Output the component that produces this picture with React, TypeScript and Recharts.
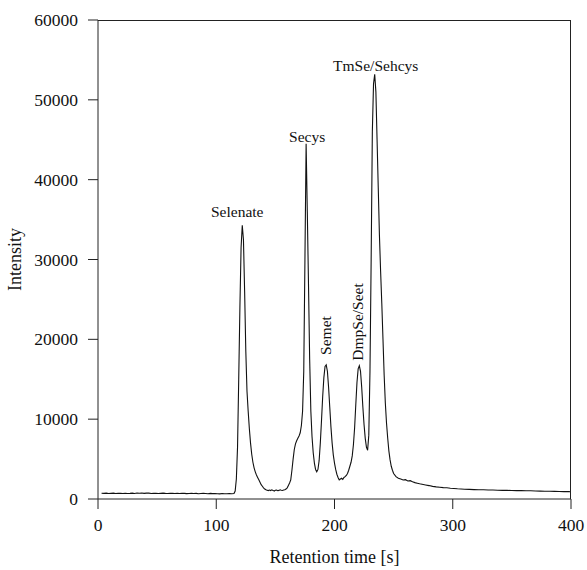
// Se species chromatogram (HPLC-ICP-MS) with a closed frame around the plot
import React from 'react';
import { LineChart, Line, XAxis, YAxis, ReferenceDot } from 'recharts';

const FONT = '"Liberation Serif", "Times New Roman", serif';
const AXIS = '#222';
const W = 587;
const H = 570;
const MARGIN = { top: 20, right: 16, left: 0, bottom: 0 };
const X_AXIS_H = 71;
const Y_AXIS_W = 98;
const TICK = 10;

const xTicks = [0, 100, 200, 300, 400];
const yTicks = [0, 10000, 20000, 30000, 40000, 50000, 60000];

// chromatogram segments: [retention time (s), intensity]
const earlyBaseline: [number, number][] = [
  [3, 720], [5, 700], [7, 740], [9, 690], [11, 710], [13, 730], [15, 680], [17, 700], [19, 720], [21, 690],
  [23, 710], [25, 680], [27, 700], [29, 730], [31, 690], [33, 750], [35, 720], [37, 760], [39, 700], [41, 740],
  [43, 730], [45, 690], [47, 720], [49, 700], [51, 680], [53, 710], [55, 740], [57, 700], [59, 690], [61, 720],
  [63, 700], [65, 680], [67, 710], [69, 690], [71, 720], [73, 700], [75, 670], [77, 690], [79, 710], [81, 680],
  [83, 700], [85, 660], [87, 690], [89, 710], [91, 680], [93, 650], [95, 700], [97, 670], [99, 690], [101, 660],
  [103, 640], [105, 680], [107, 650], [109, 660], [111, 670], [113, 650],
];

const selenatePeak: [number, number][] = [
  [115, 680], [116, 1000], [117, 2500], [118, 6500], [119, 15000], [120, 24000], [121, 31500], [122, 34300],
  [123, 32500], [124, 26000], [125, 18500], [126, 13500], [127, 11000], [128, 8800], [129, 7000], [130, 5600],
  [131, 4600], [132, 3900], [133, 3400], [134, 3000], [135, 2700], [136, 2400], [137, 2100], [138, 1800],
  [139, 1600], [140, 1400], [141, 1250], [142, 1150],
];

const midBaseline: [number, number][] = [
  [143, 1100], [144, 1050], [145, 1120], [146, 1060], [147, 1150], [148, 1080], [149, 1000], [150, 1090],
  [151, 1120], [152, 1040], [153, 1080], [154, 1150], [155, 1100], [156, 1060], [157, 1120], [158, 1150],
  [159, 1250], [160, 1400], [161, 1700], [162, 2000],
];

const secysPeak: [number, number][] = [
  [163, 2400], [164, 3600], [165, 5000], [166, 6200], [167, 6900], [168, 7300], [169, 7600], [170, 7900],
  [171, 8300], [172, 9200], [173, 11000], [174, 16000], [175, 30000], [176, 44500], [177, 36000], [178, 27000],
  [179, 17500], [180, 11000], [181, 7800], [182, 5800], [183, 4500], [184, 3700], [185, 3400],
];

const semetPeak: [number, number][] = [
  [186, 3700], [187, 4800], [188, 7000], [189, 9800], [190, 12800], [191, 15200], [192, 16600], [193, 16800],
  [194, 16000], [195, 14000], [196, 11500], [197, 9000], [198, 7000], [199, 5500], [200, 4500], [201, 3700],
  [202, 3100], [203, 2700], [204, 2400], [205, 2500], [206, 2600], [207, 2450], [208, 2700], [209, 2800],
  [210, 2950], [211, 3200], [212, 3600], [213, 4100],
];

const dmpsePeak: [number, number][] = [
  [214, 4600], [215, 5400], [216, 6800], [217, 8900], [218, 11800], [219, 14600], [220, 16300], [221, 16700],
  [222, 16000], [223, 14000], [224, 11500], [225, 9300], [226, 7600], [227, 6500], [228, 6100],
];

const tmsePeak: [number, number][] = [
  [229, 8000], [230, 16000], [231, 30000], [232, 46000], [233, 52000], [234, 53200], [235, 51000], [236, 45000],
  [237, 39000], [238, 33000], [239, 28500], [240, 24500], [241, 20000], [242, 15500], [243, 12000], [244, 9500],
  [245, 7600], [246, 6000], [247, 4900], [248, 4100], [249, 3600], [250, 3200], [252, 2800], [254, 2600],
];

const tail: [number, number][] = [
  [256, 2500], [258, 2380], [260, 2420], [262, 2250], [264, 2300], [266, 2150], [268, 2050], [270, 1980],
  [272, 1900], [274, 1850], [277, 1760], [280, 1680], [283, 1580], [286, 1520], [289, 1480], [292, 1420],
  [295, 1400], [298, 1350], [301, 1320], [304, 1280], [307, 1260], [310, 1230], [314, 1200], [318, 1180],
  [322, 1160], [326, 1150], [330, 1120], [334, 1130], [338, 1100], [342, 1080], [346, 1090], [350, 1060],
  [354, 1050], [358, 1060], [362, 1030], [366, 1040], [370, 1000], [374, 990], [378, 980], [382, 970],
  [386, 960], [390, 940], [394, 930], [398, 920], [400, 910],
];

const peaks = [
  { name: 'Selenate', time: 122, value: 34300 },
  { name: 'Secys', time: 176, value: 44500 },
  { name: 'Semet', time: 193, value: 16800 },
  { name: 'DmpSe/Seet', time: 221, value: 16700 },
  { name: 'TmSe/Sehcys', time: 234, value: 53200 },
];

// label placement relative to the peak apex (px)
const labelStyle: Record<string, { dx: number; dy: number; vertical: boolean }> = {
  Selenate: { dx: -5, dy: -8, vertical: false },
  Secys: { dx: 1, dy: -2, vertical: false },
  Semet: { dx: 5, dy: -10, vertical: true },
  'DmpSe/Seet': { dx: 4, dy: -5, vertical: true },
  'TmSe/Sehcys': { dx: 1, dy: -3, vertical: false },
};

const data = [
  ...earlyBaseline, ...selenatePeak, ...midBaseline, ...secysPeak,
  ...semetPeak, ...dmpsePeak, ...tmsePeak, ...tail,
].map(([t, v]) => ({ t, v }));

function PeakLabel(props: any) {
  const { cx, cy, name } = props;
  const s = labelStyle[name];
  const x = cx + s.dx;
  const y = cy + s.dy;
  if (s.vertical) {
    return (
      <text x={x} y={y} transform={`rotate(-90 ${x} ${y})`} textAnchor="start"
        fontFamily={FONT} fontSize={15.5} fill="#111">
        {name}
      </text>
    );
  }
  return (
    <text x={x} y={y} textAnchor="middle" fontFamily={FONT} fontSize={15.5} fill="#111">
      {name}
    </text>
  );
}

function XTick(props: any) {
  const { x, y, payload } = props;
  return (
    <text x={x} y={y + 13} textAnchor="middle" fontFamily={FONT} fontSize={17.5} fill="#111">
      {payload.value}
    </text>
  );
}

function YTick(props: any) {
  const { x, y, payload } = props;
  return (
    <text x={x} y={y + 6} textAnchor="end" fontFamily={FONT} fontSize={17.5} fill="#111">
      {payload.value}
    </text>
  );
}

export default function App() {
  const plotLeft = MARGIN.left + Y_AXIS_W;
  const plotTop = MARGIN.top;
  const plotW = W - MARGIN.right - plotLeft;
  const plotH = H - MARGIN.bottom - X_AXIS_H - plotTop;
  return (
    <div style={{ position: 'absolute', left: 0, top: 0, width: W, height: H, background: '#fff' }}>
      <LineChart width={W} height={H} data={data} margin={MARGIN}>
        <XAxis
          dataKey="t"
          type="number"
          domain={[0, 400]}
          ticks={xTicks}
          height={X_AXIS_H}
          tickSize={TICK}
          tickMargin={9}
          stroke={AXIS}
          tick={<XTick />}
          label={{
            content: (p: any) => (
              <text x={p.viewBox.x + p.viewBox.width / 2} y={p.viewBox.y + 64} textAnchor="middle"
                fontFamily={FONT} fontSize={18} fill="#111">
                Retention time [s]
              </text>
            ),
          }}
        />
        <YAxis
          type="number"
          domain={[0, 60000]}
          ticks={yTicks}
          width={Y_AXIS_W}
          tickSize={TICK}
          tickMargin={10}
          stroke={AXIS}
          tick={<YTick />}
          label={{
            content: (p: any) => {
              const x = 21;
              const y = p.viewBox.y + p.viewBox.height / 2;
              return (
                <text x={x} y={y} transform={`rotate(-90 ${x} ${y})`} textAnchor="middle"
                  fontFamily={FONT} fontSize={18} fill="#111">
                  Intensity
                </text>
              );
            },
          }}
        />
        <Line type="linear" dataKey="v" stroke="#111" strokeWidth={1.1} dot={false} isAnimationActive={false} />
        {peaks.map((pk) => (
          <ReferenceDot key={pk.name} x={pk.time} y={pk.value} r={0}
            shape={(p: any) => <PeakLabel {...p} name={pk.name} />} />
        ))}
      </LineChart>
      {/* top and right edges of the frame */}
      <div
        style={{
          position: 'absolute',
          left: plotLeft,
          top: plotTop,
          width: plotW,
          height: plotH,
          borderTop: `1px solid ${AXIS}`,
          borderRight: `1px solid ${AXIS}`,
          boxSizing: 'border-box',
          pointerEvents: 'none',
        }}
      />
    </div>
  );
}
